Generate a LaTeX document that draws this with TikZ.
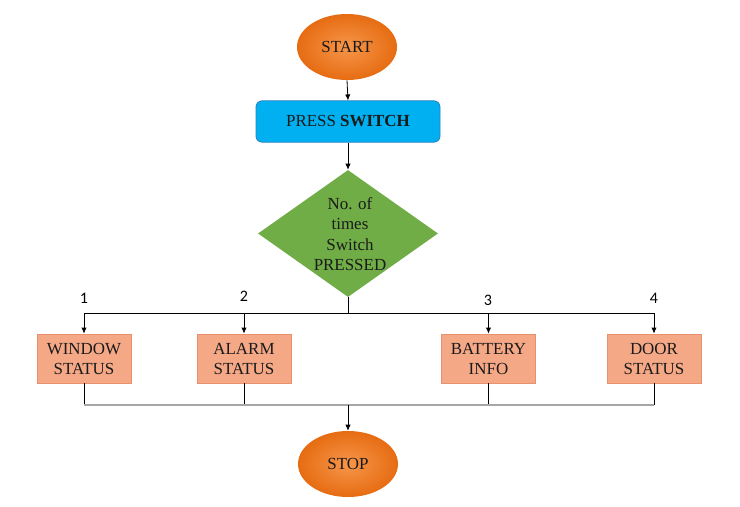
\documentclass[tikz,border=0pt]{standalone}
\usepackage{fontspec}
\setmainfont{Liberation Serif}
\newfontfamily\tnr{Liberation Serif}
\newfontfamily\numfont{Carlito}
\usetikzlibrary{shapes.geometric,arrows.meta}
\definecolor{orangeA}{HTML}{F7964A}
\definecolor{orangeB}{HTML}{E66C12}
\definecolor{cyanbox}{HTML}{00B0F0}
\definecolor{cyanedge}{HTML}{2B7FC0}
\definecolor{greendia}{HTML}{70AD47}
\definecolor{salmon}{HTML}{F5A886}
\definecolor{salmonedge}{HTML}{E8916C}
\definecolor{txt}{HTML}{1A1A1A}
\definecolor{grayline}{HTML}{A6A6A6}
\begin{document}
\begin{tikzpicture}[x=0.75pt,y=-0.75pt,
  every node/.style={text=txt},
  txtfont/.style={font=\tnr\fontsize{12.7}{15}\selectfont},
  term/.style={ellipse,inner sep=0pt,minimum width=75pt,minimum height=49.5pt,
    inner color=orangeA,outer color=orangeB,txtfont},
  pressbox/.style={rectangle,rounded corners=4.5pt,fill=cyanbox,draw=cyanedge,
    line width=0.6pt,minimum width=138pt,minimum height=31pt,inner sep=0pt,txtfont},
  statebox/.style={rectangle,fill=salmon,draw=salmonedge,line width=0.6pt,
    minimum width=70.5pt,minimum height=36.75pt,inner sep=0pt,align=center,txtfont},
  arr/.style={-{Latex[length=4.5pt,width=4pt]},line width=0.6pt,black},
  ln/.style={line width=0.6pt,black},
  numlab/.style={font=\numfont\fontsize{12}{14}\selectfont,text=black}
]
\useasboundingbox (0,0) rectangle (740,507);
\fill[white] (0,0) rectangle (740,507);

\node[term] (start) at (347,47) {START};
\node[pressbox] (press) at (348,121.5) {PRESS \textbf{SWITCH}};
\node[diamond,fill=greendia,inner sep=0pt,minimum width=135pt,minimum height=95.25pt] (dec) at (348,233.5) {};
\node[align=center,font=\tnr\fontsize{12.7}{15.4}\selectfont] (dectext) at (350,234) {No. of\\times\\Switch\\PRESSED};

\node[statebox] (win) at (84,358.5) {WINDOW\\STATUS};
\node[statebox] (alarm) at (244,358.5) {ALARM\\STATUS};
\node[statebox] (batt) at (488.5,358.5) {BATTERY\\INFO};
\node[statebox] (door) at (654,358.5) {DOOR\\STATUS};

\node[term] (stop) at (348,464) {STOP};

\draw[arr] (start.south) -- (press.north);
\draw[arr] (press.south) -- (dec.north);

\coordinate (split) at (348,313);
\coordinate (hl) at (84,313);
\coordinate (hr) at (654,313);
\draw[ln] (dec.south) -- (split);
\draw[ln] (hl) -- (hr);
\draw[arr] (win.north |- hl) -- (win.north);
\draw[arr] (alarm.north |- hl) -- (alarm.north);
\draw[arr] (batt.north |- hl) -- (batt.north);
\draw[arr] (door.north |- hl) -- (door.north);

\node[numlab] (n1) at (84,298) {1};
\node[numlab] (n2) at (244,296) {2};
\node[numlab] (n3) at (488,300) {3};
\node[numlab] (n4) at (654,298) {4};

\coordinate (bl) at (84,405);
\coordinate (br) at (654,405);
\coordinate (join) at (348,405);
\draw[ln] (win.south) -- (win.south |- bl);
\draw[ln] (alarm.south) -- (alarm.south |- bl);
\draw[ln] (batt.south) -- (batt.south |- bl);
\draw[ln] (door.south) -- (door.south |- bl);
\draw[grayline,line width=1.4pt] (bl) -- (br);
\draw[arr] (join) -- (stop.north);
\end{tikzpicture}
\end{document}
